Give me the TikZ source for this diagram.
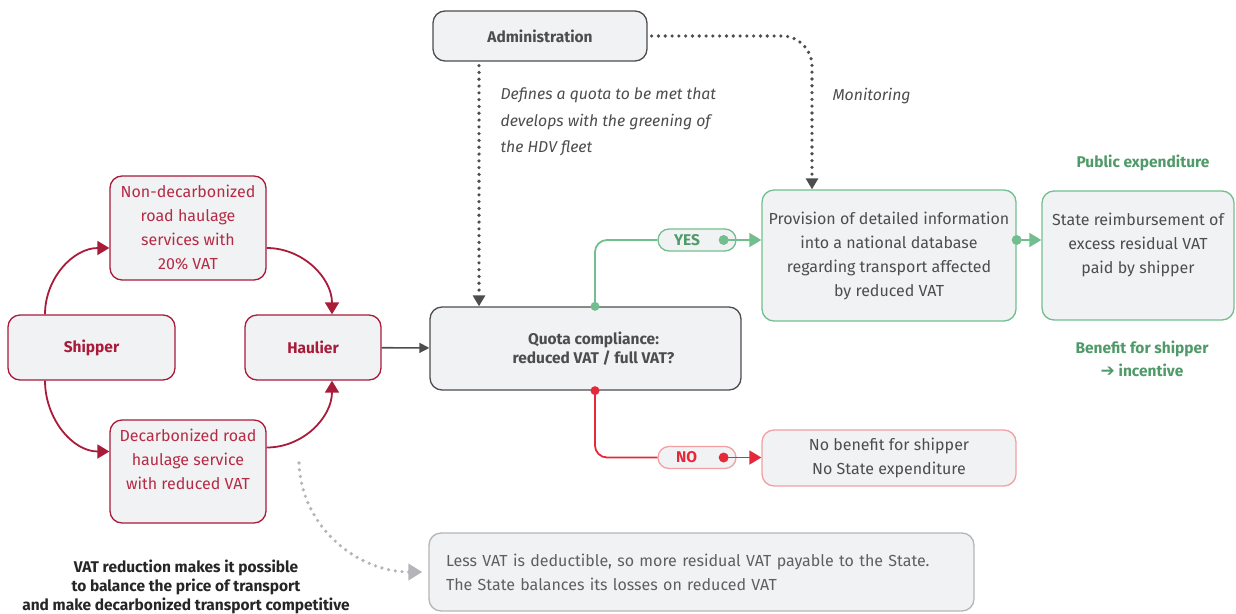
\documentclass[tikz,border=0pt]{standalone}
\usepackage{fontspec}
\setmainfont{Fira Sans}
\newfontfamily\arrowfont{DejaVu Sans}
\usetikzlibrary{arrows.meta}

\definecolor{boxfill}{HTML}{F1F2F4}
\definecolor{wine}{HTML}{A81C3A}
\definecolor{winetext}{HTML}{B52B45}
\definecolor{leaf}{HTML}{72BE8E}
\definecolor{leaftext}{HTML}{4F9A68}
\definecolor{alarm}{HTML}{E5283A}
\definecolor{blush}{HTML}{F2A0A3}
\definecolor{ink}{HTML}{4D4D4F}
\definecolor{ash}{HTML}{B4B5B8}

\newcommand\boldlbl{\fontsize{15.5}{19}\selectfont\bfseries}
\newcommand\bodytxt{\fontsize{16}{24}\selectfont}

\begin{document}
\begin{tikzpicture}[x=1pt,y=-1pt]
	\tikzset{box/.style={draw,fill=boxfill,rounded corners=12pt,line width=1.3pt,align=center,inner sep=0pt,font=\bodytxt,text=ink}}
	\tikzset{actor/.style={box,draw=wine,text=wine,font=\boldlbl}}
	\tikzset{offer/.style={box,draw=wine,text=winetext}}
	\tikzset{pill/.style={draw,fill=boxfill,rounded corners=11pt,minimum width=78pt,minimum height=22pt,text width=78pt,align=left,inner sep=0pt,line width=1.3pt,font=\boldlbl}}
	\tikzset{flow/.style={line width=1.8pt,-{Triangle[length=12pt,width=14pt]}}}
	\tikzset{branch/.style={line width=1.8pt,rounded corners=12pt}}
	\tikzset{dots/.style={ink,line width=3.6pt,line cap=round,dash pattern=on 0pt off 6.8pt}}

	\useasboundingbox (0,0) rectangle (1236,613);

	% actors and services
	\node[actor,minimum width=167pt,minimum height=65pt] (shipper) at (91.5,347.5) {Shipper};
	\node[actor,minimum width=136pt,minimum height=65pt] (haulier) at (313,347.5) {Haulier};
	\node[offer,minimum width=156pt,minimum height=104pt] (nondec) at (188,228) {Non-decarbonized\\road haulage\\services with\\20\% VAT};
	\node[offer,minimum width=156pt,minimum height=103pt] (dec) at (188,471.5) {Decarbonized road\\haulage service\\with reduced VAT\\\mbox{}};

	% administration and quota
	\node[box,draw=ink,minimum width=214pt,minimum height=50pt,font=\boldlbl] (admin) at (540,36) {Administration};
	\node[box,draw=ink,minimum width=311pt,minimum height=83pt,font=\boldlbl] (quota) at (585.5,348.5) {\hspace*{16pt}Quota compliance:\\\hspace*{16pt}reduced VAT / full VAT?};

	% outcomes
	\node[box,draw=leaf,minimum width=254pt,minimum height=131pt] (prov) at (889,255.5) {Provision of detailed information\\into a national database\\regarding transport affected\\by reduced VAT};
	\node[box,draw=leaf,minimum width=192pt,minimum height=129pt] (refund) at (1138,255.5) {State reimbursement of\\excess residual VAT\\paid by shipper\\\mbox{}};
	\node[box,draw=blush,minimum width=254pt,minimum height=56pt] (nobenefit) at (889,458) {No benefit for shipper\\No State expenditure};
	\node[box,draw=ash,minimum width=545pt,minimum height=78pt,text width=511pt,align=left,text=ink!90] (losses) at (701.5,572) {Less VAT is deductible, so more residual VAT payable to the State.\\The State balances its losses on reduced VAT};

	\node[pill,draw=leaf,text=leaftext] (yes) at (697,240) {\hspace*{16pt}YES};
	\node[pill,draw=blush,text=alarm] (no) at (697,457.5) {\hspace*{18pt}NO};

	% free texts
	\node[anchor=west,align=left,font=\fontsize{15.8}{26.5}\selectfont\itshape,text=ink] (quotanote) at (497,122) {Defines a quota to be met that\\develops with the greening of\\the HDV fleet};
	\node[anchor=west,font=\fontsize{15.8}{24}\selectfont\itshape,text=ink] (monitor) at (829,96) {Monitoring};
	\node[font=\boldlbl,text=leaftext] (public) at (1143,163) {Public expenditure};
	\node[font=\fontsize{15.5}{23}\selectfont\bfseries,text=leaftext,align=center] (benefit) at (1142,358.5) {Benefit for shipper\\{\arrowfont\bfseries\fontsize{17}{23}\selectfont ➔} incentive};
	\node[font=\fontsize{15.5}{19}\selectfont\bfseries,text=black!85,align=center] (vatnote) at (186,587) {VAT reduction makes it possible\\to balance the price of transport\\and make decarbonized transport competitive};

	% the loop of services
	\draw[flow,wine] ([xshift=-46.5pt]shipper.north) to[out=90,in=180] ([yshift=-20pt]nondec.west);
	\draw[flow,wine] ([yshift=-20pt]nondec.east) to[out=0,in=90] ([xshift=19pt]haulier.north);
	\draw[flow,wine] ([xshift=-46.5pt]shipper.south) to[out=-90,in=180] ([yshift=20pt]dec.west);
	\draw[flow,wine] ([yshift=24pt]dec.east) to[out=0,in=-90] ([xshift=19pt]haulier.south);
	\draw[ink,line width=1.6pt,-{Triangle[length=10pt,width=10pt]}] (haulier) -- (quota);

	% administration
	\draw[dots,shorten <=4pt,-{Triangle[length=11pt,width=12pt]}] ([xshift=-61pt]admin.south) -- ([xshift=-61pt]admin.south |- quota.north);
	\draw[dots,shorten <=4pt,rounded corners=30pt,-{Triangle[length=11pt,width=12pt]}] (admin.east) -| ([xshift=-77pt]prov.north);

	% yes / no
	\draw[branch,leaf] ([xshift=9.5pt]quota.north) |- (yes.west);
	\fill[leaf] ([xshift=9.5pt]quota.north) circle (4.5pt);
	\draw[flow,leaf] ([xshift=-13pt]yes.east) -- (prov.west |- yes);
	\fill[leaf] ([xshift=-13pt]yes.east) circle (5pt);
	\draw[flow,leaf] (prov.east |- yes) -- (refund.west |- yes);
	\fill[leaf] (prov.east |- yes) circle (5pt);
	\draw[branch,alarm] ([xshift=9.5pt]quota.south) |- (no.west);
	\fill[alarm] ([xshift=9.5pt]quota.south) circle (4.5pt);
	\draw[flow,alarm] ([xshift=-13pt]no.east) -- (nobenefit.west |- no);
	\fill[alarm] ([xshift=-13pt]no.east) circle (5pt);

	% state balance
	\coordinate (swoop) at (299,463);
	\draw[dots,ash,-{Triangle[length=14pt,width=16pt]}] (swoop) to[out=-88,in=180] ([xshift=-6pt]losses.west);
\end{tikzpicture}
\end{document}
